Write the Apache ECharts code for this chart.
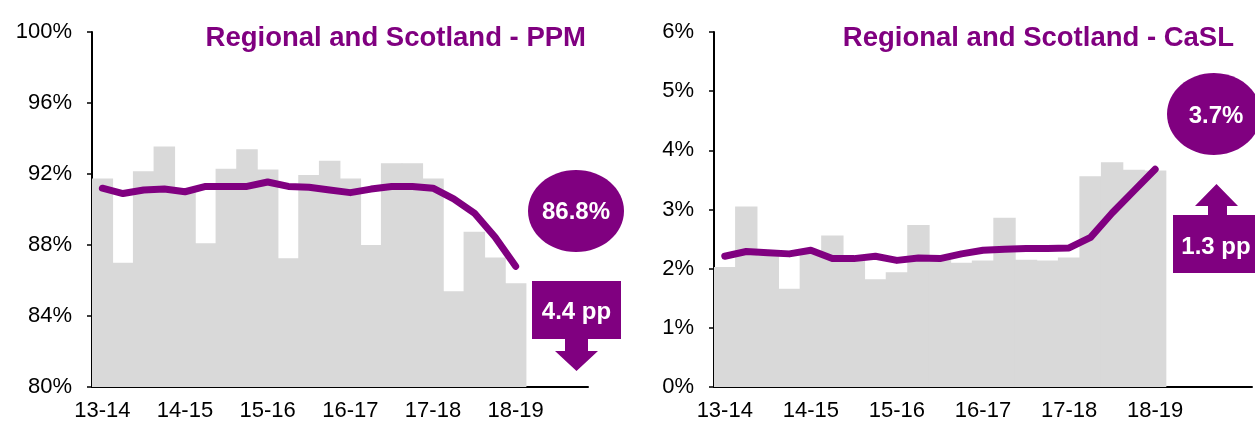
<!DOCTYPE html>
<html>
<head>
<meta charset="utf-8">
<script src="https://cdn.jsdelivr.net/npm/echarts@6/dist/echarts.min.js"></script>
<style>
  html, body { margin: 0; padding: 0; background: #fff; }
  #chart { width: 1255px; height: 426px; }
</style>
</head>
<body>
<div id="chart"></div>
<script>
// financial years, one label per four quarters
const years = ['13-14', '14-15', '15-16', '16-17', '17-18', '18-19']
const quarters = years.flatMap(y => ['Q1', 'Q2', 'Q3', 'Q4'].map(q => y + ' ' + q))

// PPM, quarterly and rolling (%)
const ppmQuarter = [91.75, 87.0, 92.15, 93.55, 91.0, 88.1, 92.3, 93.4, 92.25, 87.25, 91.95,
  92.75, 91.75, 88.0, 92.6, 92.6, 91.75, 85.4, 88.75, 87.3, 85.85]
const ppmRolling = [91.2, 90.9, 91.1, 91.15, 91.0, 91.3, 91.3, 91.3, 91.55, 91.3, 91.25,
  91.1, 90.95, 91.15, 91.3, 91.3, 91.2, 90.6, 89.8, 88.45, 86.8]

// CaSL, quarterly and rolling (%)
const caslQuarter = [2.03, 3.05, 2.22, 1.66, 2.25, 2.56, 2.15, 1.82, 1.94, 2.74, 2.15,
  2.1, 2.14, 2.86, 2.15, 2.14, 2.19, 3.56, 3.80, 3.67, 3.66]
const caslRolling = [2.21, 2.29, 2.27, 2.25, 2.31, 2.17, 2.17, 2.21, 2.14, 2.18, 2.17,
  2.25, 2.31, 2.33, 2.34, 2.34, 2.35, 2.53, 2.94, 3.31, 3.68]

const PURPLE = '#800080'
const GREY = '#d9d9d9'
const FONT = 'Liberation Sans, Arial, sans-serif'

const last = arr => arr[arr.length - 1]
const yearAgo = arr => arr[arr.length - 5]
const ppmChange = (yearAgo(ppmRolling) - last(ppmRolling)).toFixed(1)
const caslChange = (last(caslRolling) - yearAgo(caslRolling)).toFixed(1)

const chart = echarts.init(document.getElementById('chart'), null, { renderer: 'canvas' })

const xAxisBase = (gridIndex, data) => ({
  type: 'category',
  gridIndex,
  data,
  boundaryGap: true,
  axisLine: { lineStyle: { color: '#000', width: 2 } },
  axisTick: { show: false },
  axisLabel: {
    interval: 3,
    margin: 13,
    color: '#000',
    fontSize: 22,
    fontFamily: FONT,
    formatter: v => (v.endsWith('Q1') ? v.slice(0, 5) : ''),
  },
})

const yAxisBase = (gridIndex, min, max, interval) => ({
  type: 'value',
  gridIndex,
  min,
  max,
  interval,
  axisLine: { show: true, lineStyle: { color: '#000', width: 2 } },
  axisTick: { show: true, length: 5, lineStyle: { color: '#000', width: 1.5 } },
  splitLine: { show: false },
  axisLabel: {
    margin: 20,
    color: '#000',
    fontSize: 22,
    fontFamily: FONT,
    formatter: '{value}%',
  },
})

const lineStyle = { color: PURPLE, width: 7, cap: 'round', join: 'round' }
// bars slightly wider than the band so neighbours overlap and no seams show
const barStyle = { color: GREY }

const option = {
  animation: false,
  title: [
    {
      text: 'Regional and Scotland - PPM',
      right: 664,
      top: 19,
      textStyle: { color: PURPLE, fontSize: 27.5, fontWeight: 'bold', fontFamily: FONT },
    },
    {
      text: 'Regional and Scotland - CaSL',
      right: 16,
      top: 19,
      textStyle: { color: PURPLE, fontSize: 27.5, fontWeight: 'bold', fontFamily: FONT },
    },
  ],
  grid: [
    { left: 92, top: 32, width: 496, height: 355 },
    { left: 714, top: 32, width: 538, height: 355 },
  ],
  xAxis: [
    xAxisBase(0, quarters),
    xAxisBase(1, quarters.concat([''])),
  ],
  yAxis: [
    yAxisBase(0, 80, 100, 4),
    yAxisBase(1, 0, 6, 1),
  ],
  series: [
    {
      name: 'PPM quarter',
      type: 'bar',
      xAxisIndex: 0,
      yAxisIndex: 0,
      barWidth: '104%',
      itemStyle: barStyle,
      data: ppmQuarter,
    },
    {
      name: 'PPM rolling',
      type: 'line',
      xAxisIndex: 0,
      yAxisIndex: 0,
      showSymbol: false,
      lineStyle,
      data: ppmRolling,
    },
    {
      name: 'CaSL quarter',
      type: 'bar',
      xAxisIndex: 1,
      yAxisIndex: 1,
      barWidth: '104%',
      itemStyle: barStyle,
      data: caslQuarter,
    },
    {
      name: 'CaSL rolling',
      type: 'line',
      xAxisIndex: 1,
      yAxisIndex: 1,
      showSymbol: false,
      lineStyle,
      data: caslRolling,
    },
  ],
  graphic: [
    // PPM callouts
    { type: 'ellipse', shape: { cx: 576, cy: 211, rx: 48, ry: 41 }, style: { fill: PURPLE } },
    {
      type: 'text', x: 576, y: 212,
      style: { text: last(ppmRolling).toFixed(1) + '%', fill: '#fff', font: 'bold 24px ' + FONT, align: 'center', verticalAlign: 'middle' },
    },
    { type: 'rect', shape: { x: 532, y: 281, width: 89, height: 58 }, style: { fill: PURPLE } },
    {
      type: 'polygon',
      shape: { points: [[565, 339], [588, 339], [588, 351], [598, 351], [576.5, 371], [555, 351], [565, 351]] },
      style: { fill: PURPLE },
    },
    {
      type: 'text', x: 576.5, y: 312,
      style: { text: ppmChange + ' pp', fill: '#fff', font: 'bold 24px ' + FONT, align: 'center', verticalAlign: 'middle' },
    },
    // CaSL callouts
    { type: 'ellipse', shape: { cx: 1214, cy: 114, rx: 47, ry: 41 }, style: { fill: PURPLE } },
    {
      type: 'text', x: 1216, y: 116,
      style: { text: last(caslRolling).toFixed(1) + '%', fill: '#fff', font: 'bold 24px ' + FONT, align: 'center', verticalAlign: 'middle' },
    },
    {
      type: 'polygon',
      shape: { points: [[1208, 216], [1227, 216], [1227, 206], [1238, 206], [1216.5, 184], [1195, 206], [1208, 206]] },
      style: { fill: PURPLE },
    },
    { type: 'rect', shape: { x: 1173, y: 215, width: 92, height: 58 }, style: { fill: PURPLE } },
    {
      type: 'text', x: 1216, y: 247,
      style: { text: caslChange + ' pp', fill: '#fff', font: 'bold 24px ' + FONT, align: 'center', verticalAlign: 'middle' },
    },
  ],
}

chart.setOption(option)
</script>
</body>
</html>
